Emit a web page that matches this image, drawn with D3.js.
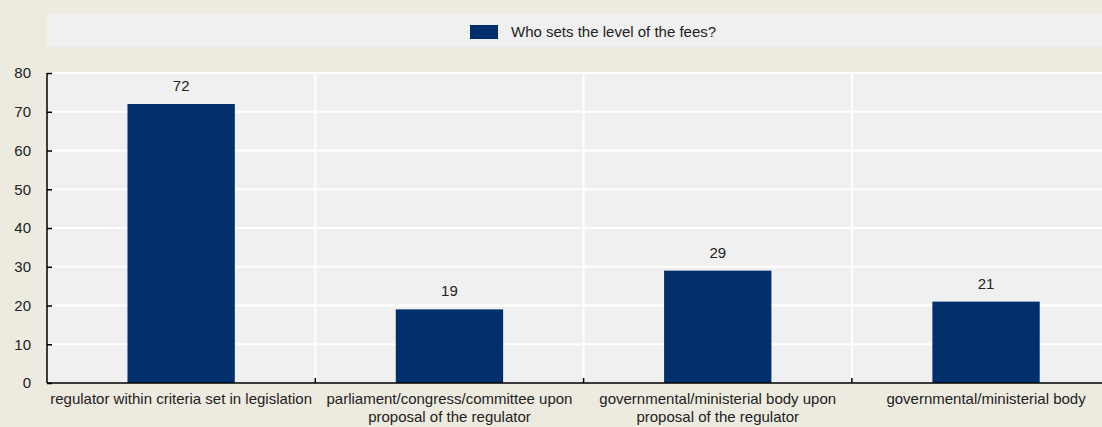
<!DOCTYPE html>
<html>
<head>
<meta charset="utf-8">
<script src="https://cdn.jsdelivr.net/npm/d3@7"></script>
<style>
  body { margin: 0; background: #edeae0; }
  svg { display: block; font-family: "Liberation Sans", Arial, sans-serif; }
</style>
</head>
<body>
<div id="chart-area"></div>
<script>
// data
var categories = [
  ["regulator within criteria set in legislation"],
  ["parliament/congress/committee upon", "proposal of the regulator"],
  ["governmental/ministerial body upon", "proposal of the regulator"],
  ["governmental/ministerial body"]
];
var values = [72, 19, 29, 21];
var seriesName = "Who sets the level of the fees?";
var yTicks = [0, 10, 20, 30, 40, 50, 60, 70, 80];

var W = 1102, H = 427;
var plotLeft = 47, plotTop = 73, plotBottom = 383, plotRight = 47 + 4 * 268.3;
var navy = "#002f6c";
var fs = 15;

var svg = d3.select("#chart-area").append("svg").attr("width", W).attr("height", H);
svg.append("rect").attr("width", W).attr("height", H).attr("fill", "#edeae0");

// legend
svg.append("rect").attr("x", 47).attr("y", 14).attr("width", W - 47).attr("height", 33).attr("fill", "#f0f0f0");
svg.append("rect").attr("x", 470).attr("y", 25).attr("width", 28).attr("height", 14).attr("fill", navy);
svg.append("text").attr("x", 511).attr("y", 37).attr("font-size", fs).attr("fill", "#222").text(seriesName);

var x = d3.scaleBand()
  .domain(d3.range(categories.length))
  .range([plotLeft, plotRight])
  .paddingInner(0)
  .paddingOuter(0);
var y = d3.scaleLinear().domain([0, 80]).range([plotBottom, plotTop]);

svg.append("rect").attr("x", plotLeft).attr("y", plotTop).attr("width", plotRight - plotLeft).attr("height", plotBottom - plotTop).attr("fill", "#f0f0f0");

// gridlines
svg.selectAll(".hgrid").data(yTicks.slice(1)).enter().append("line")
  .attr("x1", plotLeft).attr("x2", plotRight)
  .attr("y1", (d) => y(d)).attr("y2", (d) => y(d))
  .attr("stroke", "#fff").attr("stroke-width", 2);
svg.selectAll(".vgrid").data(d3.range(1, categories.length)).enter().append("line")
  .attr("x1", (d) => x(d)).attr("x2", (d) => x(d))
  .attr("y1", plotTop).attr("y2", plotBottom)
  .attr("stroke", "#fff").attr("stroke-width", 2);

// bars
var bw = x.bandwidth() * 0.4;
svg.selectAll(".bar").data(values).enter().append("rect")
  .attr("x", (d, i) => x(i) + x.bandwidth() / 2 - bw / 2)
  .attr("y", (d) => y(d))
  .attr("width", bw)
  .attr("height", (d) => y(0) - y(d))
  .attr("fill", navy);

svg.selectAll(".val").data(values).enter().append("text")
  .attr("x", (d, i) => x(i) + x.bandwidth() / 2)
  .attr("y", (d) => y(d) - 13)
  .attr("text-anchor", "middle").attr("font-size", fs).attr("fill", "#222")
  .text((d) => d);

// y axis
var yAxis = svg.append("g").attr("transform", "translate(" + plotLeft + ",0)")
  .call(d3.axisLeft(y).tickValues(yTicks).tickSize(-5).tickPadding(16));
yAxis.selectAll("text").attr("font-size", fs).attr("fill", "#222").attr("font-family", "Liberation Sans, Arial, sans-serif");
yAxis.selectAll("line").attr("stroke", "#000").attr("stroke-width", 1.5);
yAxis.select(".domain").attr("stroke", "#000").attr("stroke-width", 1.5).attr("d", "M0," + plotTop + "V" + plotBottom);

// x axis
svg.append("line").attr("x1", plotLeft).attr("x2", plotRight).attr("y1", plotBottom).attr("y2", plotBottom)
  .attr("stroke", "#000").attr("stroke-width", 1.5);
svg.selectAll(".xtick").data(d3.range(1, categories.length)).enter().append("line")
  .attr("x1", (d) => x(d)).attr("x2", (d) => x(d))
  .attr("y1", plotBottom).attr("y2", plotBottom - 5)
  .attr("stroke", "#000").attr("stroke-width", 1.5);

var labels = svg.selectAll(".xlab").data(categories).enter().append("text")
  .attr("x", (d, i) => x(i) + x.bandwidth() / 2)
  .attr("y", 404)
  .attr("text-anchor", "middle").attr("font-size", fs).attr("fill", "#222");
labels.selectAll("tspan").data((d) => d).enter().append("tspan")
  .attr("x", function() { return d3.select(this.parentNode).attr("x"); })
  .attr("dy", (d, i) => i === 0 ? 0 : 18)
  .text((d) => d);
</script>
</body>
</html>
